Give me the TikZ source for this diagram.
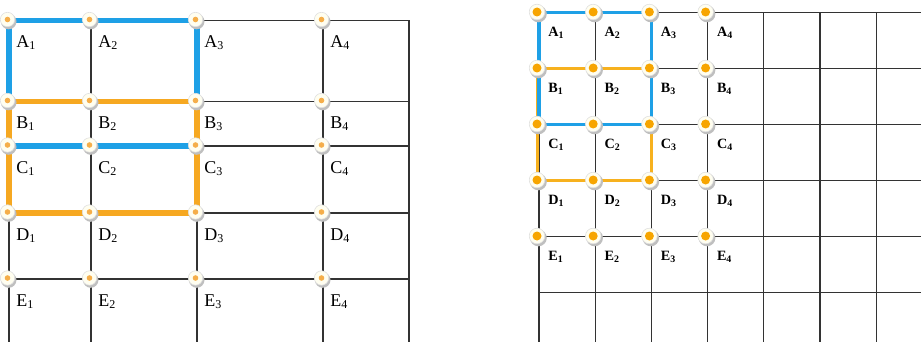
\documentclass[tikz,border=0pt]{standalone}
\usepackage{fontspec}
\setmainfont{Liberation Serif}
\usetikzlibrary{calc}
\definecolor{myblue}{HTML}{1EA0E6}
\definecolor{myorange}{HTML}{F6A821}
\definecolor{dotorange}{HTML}{F7A500}
\definecolor{ldotorange}{HTML}{F5AE4A}
\begin{document}
\begin{tikzpicture}[x=0.5pt,y=-0.5pt,
  gridline/.style={line width=0.65pt, draw=black!80},
  lblue/.style={draw=myblue, line width=2.8pt, line join=miter},
  lorange/.style={draw=myorange, line width=2.9pt, line join=miter},
  rblue/.style={draw=myblue, line width=1.9pt, line join=miter},
  rorange/.style={draw=myorange!90!yellow, line width=1.9pt, line join=miter},
  dotshadow/.style={fill=black!25},
  dotdisc/.style={fill=white!94!yellow, draw=black!12, line width=0.3pt},
  llabel/.style={anchor=base west, inner sep=0pt, font=\fontsize{9}{11}\selectfont},
  rlabel/.style={anchor=base west, inner sep=0pt, font=\fontsize{7.1}{8.5}\selectfont\bfseries}
]
\useasboundingbox (0,0) rectangle (921,342);

% ---------- left grid ----------
\foreach \r/\y in {A/20.5,B/101.5,C/146,D/213,E/279}{
  \foreach \c/\x in {1/9,2/91,3/197,4/323}{
    \coordinate (L\r\c) at (\x,\y);
  }
}
\foreach \x in {9,91,197,323,409}{
  \draw[gridline] (\x,20.5) -- (\x,342);
}
\foreach \y in {20.5,101.5,146,213,279}{
  \draw[gridline] (9,\y) -- (409,\y);
}
\draw[lblue] (LA1) rectangle (LC3);
\draw[lorange] (LB1) rectangle (LD3);

\foreach \r in {A,B,C,D,E}{
  \foreach \c in {1,2,3,4}{
    \fill[dotshadow] ($(L\r\c)+(-0.3,1)$) circle (7.8);
    \filldraw[dotdisc] ($(L\r\c)+(-1.5,-1)$) circle (7.2);
    \fill[ldotorange] ($(L\r\c)+(-1.5,-1)$) circle (2.8);
    \node[llabel] (lab-L\r\c) at ($(L\r\c)+(7,27.5)$) {\r\textsubscript{\c}};
  }
}

% ---------- right grid ----------
\foreach \r/\y in {A/12.5,B/68.5,C/124.5,D/180.5,E/236.5}{
  \foreach \c/\x in {1/539,2/595.2,3/651.4,4/707.6}{
    \coordinate (R\r\c) at (\x,\y);
  }
}
\foreach \k in {0,...,6}{
  \draw[gridline] ({539+56.2*\k},12.5) -- ({539+56.2*\k},342);
}
\foreach \k in {0,...,5}{
  \draw[gridline] (539,{12.5+56*\k}) -- (921,{12.5+56*\k});
}
\draw[rorange] ($(RB1)+(-1.5,0)$) rectangle (RD3);
\draw[rblue] (RA1) rectangle (RC3);

\foreach \r in {A,B,C,D,E}{
  \foreach \c in {1,2,3,4}{
    \fill[dotshadow] ($(R\r\c)+(-0.6,1.4)$) circle (8.4);
    \filldraw[dotdisc] ($(R\r\c)+(-2,-0.5)$) circle (7.8);
    \fill[dotorange] ($(R\r\c)+(-2,-0.5)$) circle (4.5);
    \node[rlabel] (lab-R\r\c) at ($(R\r\c)+(9,24)$) {\r\textsubscript{\c}};
  }
}
\end{tikzpicture}
\end{document}
